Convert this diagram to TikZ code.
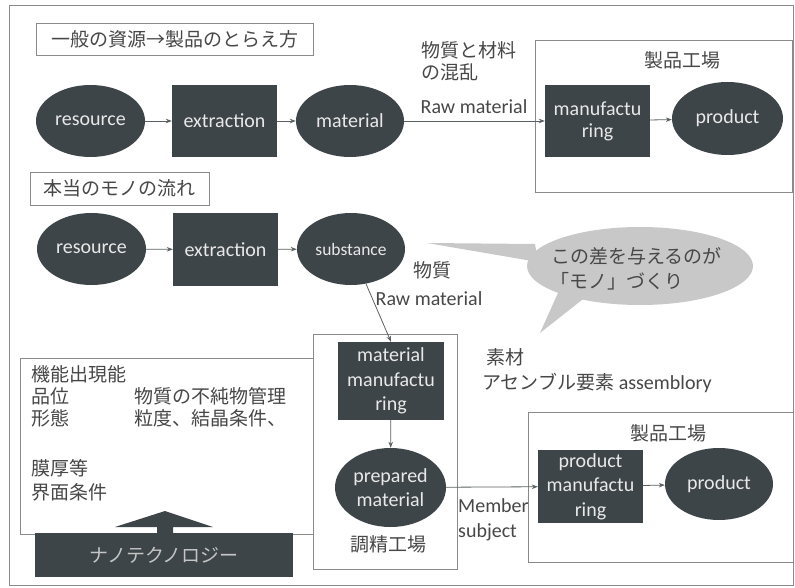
\documentclass[tikz,border=0pt]{standalone}
\usepackage{fontspec}
\setmainfont{Carlito}
\newfontfamily\jp{Noto Sans CJK JP}
\usetikzlibrary{shapes.geometric,arrows.meta}
\definecolor{dk}{HTML}{3E4548}
\definecolor{lt}{HTML}{E8E8E8}
\definecolor{tx}{HTML}{474747}
\definecolor{ln}{HTML}{8A8A8A}
\definecolor{bub}{HTML}{C8C8C8}
\tikzset{
  ell/.style={ellipse, fill=dk, text=lt, inner sep=0pt, align=center,
    font=\fontsize{20}{24}\selectfont, minimum width=109pt, minimum height=72pt},
  rbox/.style={rectangle, fill=dk, text=lt, inner sep=0pt, align=center,
    font=\fontsize{20}{24.5}\selectfont, minimum width=105pt, minimum height=72pt},
  frm/.style={draw=ln, line width=0.9pt},
  jt/.style={font=\jp\fontsize{19}{22}\selectfont, text=tx, inner sep=0pt},
  et/.style={font=\fontsize{20}{24}\selectfont, text=tx, inner sep=0pt},
  arr/.style={draw=dk!85, line width=0.8pt, -{Stealth[length=6pt,width=4.5pt]}},
  tbox/.style={draw=ln, line width=0.9pt, fill=white, inner sep=0pt, jt}
}
\begin{document}
\begin{tikzpicture}[x=1pt,y=-1pt]
\useasboundingbox (0,0) rectangle (795,588);
\fill[white] (0,0) rectangle (795,588);
% outer frame
\draw[frm] (9,5) rectangle (793,585);

% ---- section 1
\node[tbox, minimum width=277pt, minimum height=32pt] (t1) at (174.5,39) {一般の資源→製品のとらえ方};
\draw[frm] (535,40) rectangle (792,192);
\node[jt] (f1) at (682,60) {製品工場};
\node[ell] (r1) at (90.5,121) {resource};
\node[rbox] (e1) at (224.5,121) {extraction};
\node[ell, minimum width=108pt] (m1) at (350,121) {material};
\node[rbox, font=\fontsize{20}{22}\selectfont] (mf1) at (597.5,121) {manufactu\\ring};
\node[ell, minimum width=111pt, minimum height=73pt] (p1) at (727.5,118.5) {product};
\node[jt, anchor=north west, align=left] (mix) at (421,41) {物質と材料\\の混乱};
\node[et] (raw1) at (474,107) {Raw material};
\draw[arr] (r1) -- (e1);
\draw[arr] (e1) -- (m1);
\draw[arr] (m1) -- (mf1);
\draw[arr] (mf1) -- (p1);

% ---- section 2
\node[tbox, minimum width=179pt, minimum height=33pt] (t2) at (119.5,188.5) {本当のモノの流れ};
\node[ell] (r2) at (91.5,249) {resource};
\node[rbox, minimum height=73pt] (e2) at (225.5,249.5) {extraction};
\node[ell, minimum width=108pt, font=\fontsize{17.5}{20}\selectfont] (s2) at (351,249) {substance};
\node[jt] (bs) at (432,270) {物質};
\node[et] (raw2) at (429,299) {Raw material};
\draw[arr] (r2) -- (e2);
\draw[arr] (e2) -- (s2);

% speech bubble
\fill[bub] (427,243) -- (535,244) -- (538,262) -- cycle;
\fill[bub] (540,333) -- (562,284) -- (592,292) -- cycle;
\fill[bub] (640,266) ellipse [x radius=113pt, y radius=39pt];
\node[jt, anchor=west] (bt1) at (551,256) {この差を与えるのが};
\node[jt, anchor=west] (bt2) at (550,281) {「モノ」づくり};

\node[jt] (sozai) at (505,357) {素材};
\node[et, anchor=west] (asm) at (482,383) {{\jp\fontsize{19}{22}\selectfont アセンブル要素} assemblory};

% left text box
\draw[frm] (20,358) rectangle (313,534);
\node[jt, anchor=west] (k1) at (31,374) {機能出現能};
\node[jt, anchor=west] (k2) at (31,396) {品位};
\node[jt, anchor=west] (k3) at (134,396) {物質の不純物管理};
\node[jt, anchor=west] (k4) at (31,418) {形態};
\node[jt, anchor=west] (k5) at (134,418) {粒度、結晶条件、};
\node[jt, anchor=west] (k6) at (31,468) {膜厚等};
\node[jt, anchor=west] (k7) at (31,492) {界面条件};
\fill[dk] (115,527) -- (165,511) -- (213,527) -- (173,527) -- (173,534) -- (157,534) -- (157,527) -- cycle;
\node[rectangle, fill=dk, minimum width=258pt, minimum height=44pt, inner sep=0pt,
  font=\jp\fontsize{19}{22}\selectfont, text=lt!85!black] (nano) at (164,555) {ナノテクノロジー};

% material factory
\draw[frm, fill=white] (313,334) rectangle (457,569);
\node[rbox, minimum width=106pt, minimum height=78pt] (mm) at (391,381) {material\\manufactu\\ring};
\node[ell, minimum width=111pt, minimum height=79pt] (pm) at (390.5,487.5) {prepared\\material};
\node[jt] (f2) at (388,544) {調精工場};
\draw[arr] (s2) -- (mm.north);
\draw[arr] (mm) -- (pm);

% product factory 2
\draw[frm] (528,412) rectangle (793,562);
\node[jt] (f3) at (668,433) {製品工場};
\node[rbox, minimum height=73pt] (pmf) at (590.5,486.5) {product\\manufactu\\ring};
\node[ell, minimum width=108pt] (p3) at (719,484) {product};
\node[et, anchor=west] (mem) at (458,506) {Member};
\node[et, anchor=west] (sub) at (458,532) {subject};
\draw[arr] (pm) -- (pmf);
\draw[arr] (pmf) -- (p3);
\end{tikzpicture}
\end{document}
